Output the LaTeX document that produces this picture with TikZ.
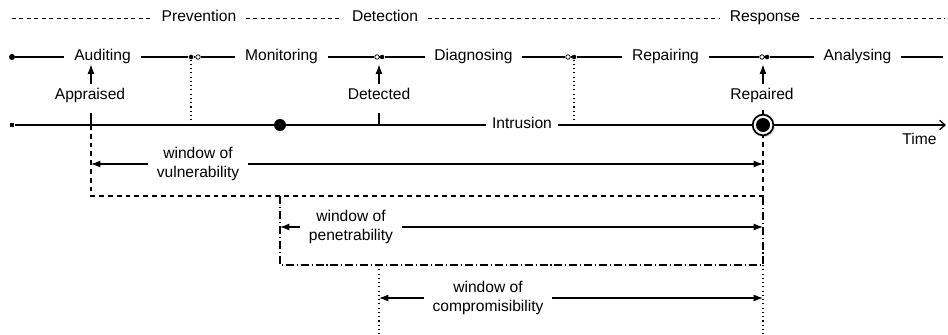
\documentclass[tikz,border=0pt]{standalone}
\usepackage{fontspec}
\setsansfont{Liberation Sans}
\usetikzlibrary{arrows.meta,positioning,shadows}
\tikzset{
  base/.style={font=\sffamily\fontsize{11.7}{14.6}\selectfont, text=black, inner sep=0pt},
  lbl/.style={base, text height=8.4pt, text depth=2.5pt, inner xsep=7.2pt},
  phase/.style={lbl, inner xsep=7pt},
  evt/.style={lbl, inner ysep=3pt},
  win/.style={base, align=center, inner xsep=6.3pt, inner ysep=2pt},
  fdot/.style={circle, fill=black, inner sep=0pt, minimum size=3.4pt},
  odot/.style={circle, draw=black, fill=white, line width=0.6pt, inner sep=0pt, minimum size=3.4pt},
  ln/.style={line width=0.8pt, draw=black},
  phln/.style={line width=0.6pt, dash pattern=on 3pt off 2.6pt},
  arr/.style={ln, -{Latex[length=7pt,width=5.2pt]}},
  tln/.style={line width=1pt},
  vln/.style={line width=0.8pt, dash pattern=on 3.6pt off 3pt},
  pln/.style={line width=0.8pt, dash pattern=on 6pt off 2.2pt on 0.8pt off 2.2pt},
  cln/.style={line width=0.8pt, dash pattern=on 0.8pt off 2.4pt},
}
\begin{document}
\begin{tikzpicture}[x=0.75pt, y=-0.75pt]
  \useasboundingbox (0,0) rectangle (948,335);
  % phases
  \coordinate (ph0) at (12,18);
  \coordinate (ph1) at (945,18);
  \node[phase] (prev) at (199,18) {Prevention};
  \node[phase] (detn) at (385,18) {Detection};
  \node[phase] (resp) at (765,18) {Response};
  \draw[phln] (ph0) -- (prev) -- (detn) -- (resp) -- (ph1);
  % stages
  \node[fdot, minimum size=4.5pt] (s0) at (12,57) {};
  \coordinate (s1) at (943,57);
  \node[lbl] (aud) at (102.5,57) {Auditing};
  \node[fdot] (f1) at (191,57) {};
  \node[odot] (o1) at (198,57) {};
  \node[lbl] (mon) at (281.5,57) {Monitoring};
  \node[odot] (o2) at (377,57) {};
  \node[fdot] (f2) at (382,57) {};
  \node[lbl] (dia) at (473.5,57) {Diagnosing};
  \node[odot] (o3) at (568,57) {};
  \node[fdot] (f3) at (574,57) {};
  \node[lbl] (rep) at (665.5,57) {Repairing};
  \node[odot] (o4) at (762,57) {};
  \node[fdot] (f4) at (767,57) {};
  \node[lbl] (ana) at (857.5,57) {Analysing};
  \draw[ln] (s0) -- (aud) -- (f1) -- (o1) -- (mon) -- (o2) -- (f2) -- (dia) -- (o3) -- (f3) -- (rep) -- (o4) -- (f4) -- (ana) -- (s1);
  % time line
  \node[rectangle, fill=black, inner sep=0pt, minimum size=3.6pt] (t0) at (12,125) {};
  \node[fdot, minimum size=9pt] (brk) at (280,125) {};
  \node[lbl, inner xsep=4pt] (intr) at (522,125) {Intrusion};
  \node[circle, draw=black, fill=white, line width=1.3pt, minimum size=15.5pt, inner sep=0pt,
        drop shadow={shadow xshift=1.2pt, shadow yshift=-1.2pt, opacity=0.35}] (ring) at (763,125) {};
  \node[fdot, minimum size=10.5pt] (ringc) at (ring) {};
  \coordinate (tend) at (946,125);
  \node[lbl] (time) at (919.5,141) {Time};
  \draw[tln] (t0) -- (brk) -- (intr) -- (ring);
  \draw[tln, -{Straight Barb[length=4pt,width=7pt]}] (ring) -- (tend);
  \draw[cln] (f1.south) -- (f1 |- t0);
  \draw[cln] (f3.south) -- (f3 |- t0);
  % events
  \node[evt] (appr) at (90,96) {Appraised};
  \node[evt] (detd) at (379,96) {Detected};
  \node[evt] (repd) at (762,96) {Repaired};
  \coordinate (ta) at (91,125);
  \coordinate (td) at (379,125);
  \draw[arr] (appr.north -| ta) -- (ta |- aud.south);
  \draw[arr] (detd.north) -- (detd.north |- dia.south);
  \draw[arr] (repd.north -| ring) -- (ring |- ana.south);
  \draw[ln, shorten <=4pt] (appr.south -| ta) -- (ta);
  \draw[ln, shorten <=4pt] (detd.south) -- (td);
  \draw[ln, shorten <=2pt] (repd.south -| ring) -- (ring.north);
  % windows
  \coordinate (vbr) at (763,196);
  \coordinate (ptl) at (280,196);
  \coordinate (pbr) at (763,265);
  \coordinate (ctl) at (379,265);
  \coordinate (cbl) at (379,336);
  \coordinate (cbr) at (763,336);
  \draw[vln] (ta) |- (vbr) -- (ring.south);
  \draw[pln] (ptl) |- (pbr) -- (vbr);
  \draw[cln] (ctl) -- (cbl);
  \draw[cln] (pbr) -- (cbr);
  \node[win] (wvul) at (198,164) {window of\\vulnerability};
  \node[win] (wpen) at (351,227) {window of\\penetrability};
  \node[win] (wcom) at (488,298) {window of\\compromisibility};
  \draw[arr] (wvul.west) -- (wvul.west -| ta);
  \draw[arr] (wvul.east) -- (wvul.east -| vbr);
  \draw[arr] (wpen.west) -- (wpen.west -| ptl);
  \draw[arr] (wpen.east) -- (wpen.east -| pbr);
  \draw[arr] (wcom.west) -- (wcom.west -| ctl);
  \draw[arr] (wcom.east) -- (wcom.east -| cbr);
\end{tikzpicture}
\end{document}
